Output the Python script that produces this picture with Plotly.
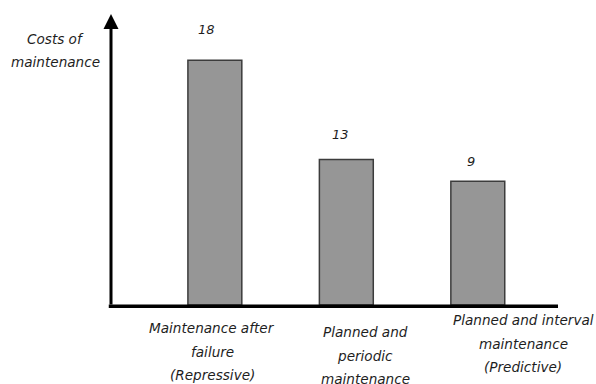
import plotly.graph_objects as go

# ---- data ----
categories = ["Maintenance after<br>failure<br>(Repressive)",
              "Planned and<br>periodic<br>maintenance",
              "Planned and interval<br>maintenance<br>(Predictive)"]
value_labels = ["18", "13", "9"]            # numbers printed above bars
bar_heights = [18, 10.7, 9.1]               # bar heights as drawn in the picture
y_title_lines = ["Costs of", "maintenance"]

FONT = "DejaVu Sans"
TXT = "#1e1e1e"
FS = 13.6

# plot area in window pixels
OFF = 0
PL, PR, PT, PB = 111, 558, 14, 305
W, H = 596 - OFF, 384 - OFF


def px_x(x):
    return (x - PL) / (PR - PL)


def px_y(y):
    return 1 - (y - PT) / (PB - PT)


x_idx = list(range(len(categories)))

fig = go.Figure()
fig.add_trace(go.Bar(
    x=x_idx, y=bar_heights, width=0.41,
    marker=dict(color="#969696", line=dict(color="#3c3c3c", width=1.5)),
    showlegend=False, hoverinfo="skip",
))

annotations = []
# value labels above bars
label_shift = [(-8, 31), (-6, 25), (-7, 20)]
for i, (h, t) in enumerate(zip(bar_heights, value_labels)):
    annotations.append(dict(
        x=i, y=h, xref="x", yref="y", text="<i>%s</i>" % t, showarrow=False,
        xshift=label_shift[i][0], yshift=label_shift[i][1],
        font=dict(family=FONT, size=FS - 0.6, color=TXT),
    ))

# category labels (line by line for wider spacing)
cat_center = [212, 365, 523]
cat_top = [328, 332, 320]  # pixel y of first line centre
for i, cat in enumerate(categories):
    for j, line in enumerate(cat.split("<br>")):
        annotations.append(dict(
            x=px_x(cat_center[i]), y=px_y(cat_top[i] + j * 23.5), xref="paper", yref="paper",
            text="<i>%s</i>" % line, showarrow=False, xanchor="center",
            yanchor="middle", font=dict(family=FONT, size=FS, color=TXT),
        ))

# y-axis title
for j, line in enumerate(y_title_lines):
    annotations.append(dict(
        x=px_x(55), y=px_y(39 + j * 23), xref="paper", yref="paper",
        text="<i>%s</i>" % line, showarrow=False, xanchor="center", yanchor="middle",
        font=dict(family=FONT, size=FS, color=TXT),
    ))

# y axis arrow
annotations.append(dict(
    x=0, y=1, xref="paper", yref="paper", ax=0, ay=292, axref="pixel", ayref="pixel",
    showarrow=True, arrowhead=2, arrowsize=1.0, arrowwidth=3, arrowcolor="black", text="",
))

fig.update_layout(
    width=W, height=H,
    margin=dict(l=PL - OFF, r=W - (PR - OFF), t=PT - OFF, b=H - (PB - OFF)),
    paper_bgcolor="white", plot_bgcolor="white",
    xaxis=dict(range=[-0.79, 2.61], showticklabels=False, showgrid=False,
               zeroline=False, showline=False, ticks="", fixedrange=True),
    yaxis=dict(range=[0, 21.4], showticklabels=False, showgrid=False,
               zeroline=False, showline=False, ticks="", fixedrange=True),
    shapes=[dict(type="line", xref="paper", yref="paper", x0=-0.005, x1=1, y0=-0.004, y1=-0.004,
                 line=dict(color="black", width=3.5))],
    annotations=annotations,
    bargap=0,
)

fig.write_html(
    "out.html",
    config={"displayModeBar": False, "staticPlot": True},
    post_script="document.body.style.margin='0';document.body.style.overflow='hidden';",
)
